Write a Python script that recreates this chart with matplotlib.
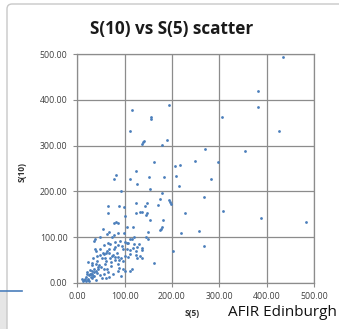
import matplotlib.pyplot as plt
from matplotlib.patches import FancyBboxPatch, Rectangle
from matplotlib.lines import Line2D

# S(5) and S(10) pairs, one point per record
s5 = [435, 382, 382, 306, 427, 270, 354, 248, 297, 283, 268, 308, 389, 484, 258, 268,
      218, 228, 202, 163, 194, 115, 156, 155, 112, 141, 139, 137, 189, 179, 162, 125,
      206, 217, 81, 77, 112, 126, 151, 184, 209, 215, 153, 93, 178, 174, 194, 196,
      198, 170, 147, 144, 123, 65, 88, 99, 64, 124, 132, 137, 146, 148, 153, 181,
      178, 177, 175, 100, 77, 81, 86, 104,
      54, 66, 63, 38, 36, 48, 73, 86, 101, 105, 108, 115, 119, 130, 127, 146,
      150, 150, 90, 87, 80, 56, 49, 37, 40, 66, 63, 68, 61, 79, 78, 94,
      97, 106, 112, 118, 123, 132, 137, 127, 112, 108, 101, 87, 92, 89, 75, 80,
      70, 80, 72, 56, 52, 58, 41, 34, 42, 23, 32, 39, 51, 56, 62, 65,
      57, 85, 89, 86, 96, 101, 112, 115, 43, 39, 42, 35, 26, 30, 21, 29,
      25, 18, 23, 28, 32, 36, 49, 52, 40, 15, 19, 25, 9, 13, 32, 35,
      68, 76, 61, 92, 137, 136, 123, 120, 111, 78, 70, 98, 117, 46, 58, 71,
      20, 27, 33, 44, 17, 22, 60, 84, 96, 31, 47, 55, 64, 74]
s10 = [493, 420, 385, 362, 332, 292, 289, 266, 265, 228, 188, 157, 141, 133, 113, 80,
       108, 153, 69, 43, 389, 379, 362, 359, 332, 310, 308, 303, 312, 301, 264, 244,
       255, 258, 236, 226, 226, 217, 231, 231, 234, 212, 206, 200, 196, 184, 181, 177,
       172, 170, 174, 168, 174, 169, 167, 166, 152, 153, 155, 155, 149, 152, 138, 137,
       121, 118, 116, 145, 131, 132, 131, 123,
       117, 112, 107, 95, 91, 101, 101, 109, 89, 88, 86, 96, 101, 85, 79, 101,
       96, 110, 91, 82, 90, 82, 74, 74, 69, 74, 69, 66, 64, 78, 73, 80,
       73, 74, 72, 75, 69, 58, 55, 54, 62, 57, 58, 57, 53, 49, 61, 57,
       53, 50, 45, 62, 55, 53, 59, 53, 48, 45, 44, 41, 35, 29, 31, 23,
       20, 42, 33, 26, 29, 26, 26, 29, 35, 26, 22, 31, 28, 25, 20, 20,
       16, 12, 9, 13, 11, 15, 16, 11, 7, 7, 4, 4, 9, 4, 20, 23,
       13, 19, 10, 14, 77, 72, 61, 85, 95, 104, 85, 109, 123, 38, 40, 36,
       24, 18, 15, 30, 8, 6, 47, 64, 48, 38, 60, 66, 88, 59]

x_ticks = [0, 100, 200, 300, 400, 500]
y_ticks = [0, 100, 200, 300, 400, 500]

W, H = 339, 329
fig = plt.figure(figsize=(W / 100, H / 100), dpi=100)
fig.patch.set_facecolor('white')

# chart frame with rounded corners, kept behind the axes
frame = FancyBboxPatch((7 / W, -0.2), (W + 20) / W, 1.2 - 4 / H,
                       boxstyle='round,pad=0,rounding_size=0.015',
                       transform=fig.transFigure, facecolor='white',
                       edgecolor='#c8c8c8', linewidth=1.0, zorder=-2)
fig.patches.append(frame)

# slide pieces around the chart
fig.patches.append(Rectangle((0, 0), 7 / W, 1 - 292 / H, transform=fig.transFigure,
                             facecolor='#e6e6e6', edgecolor='none', zorder=-3))
fig.lines.append(Line2D([0, 22 / W], [1 - 291 / H] * 2, transform=fig.transFigure,
                        color='#4a7ebb', linewidth=1.2))

ax = fig.add_axes([77.3 / W, 1 - 282.7 / H, (314 - 77.3) / W, (282.7 - 54.3) / H])
ax.set_zorder(2)
ax.scatter(s5, s10, s=4, color='#4a7ebb', linewidths=0, zorder=3)

ax.set_xlim(0, 500)
ax.set_ylim(0, 500)
ax.set_xticks(x_ticks)
ax.set_yticks(y_ticks)
ax.set_xticklabels([f'{v:.2f}' for v in x_ticks])
ax.set_yticklabels([f'{v:.2f}' for v in y_ticks])
ax.grid(True, color='#8c8c8c', linewidth=0.9)
ax.set_axisbelow(True)
for sp in ax.spines.values():
    sp.set_color('#8c8c8c')
    sp.set_linewidth(0.9)
ax.tick_params(direction='out', length=3, width=0.8, color='#8c8c8c',
               labelsize=6.3, labelcolor='#404040')
ax.tick_params(axis='y', pad=4)
ax.tick_params(axis='x', pad=4)
for lbl in ax.get_xticklabels() + ax.get_yticklabels():
    lbl.set_family('Open Sans')

fig.text(172 / W, 1 - 29 / H, 'S(10) vs S(5) scatter', ha='center', va='center',
         fontsize=12.3, fontweight='bold', family='Open Sans', color='#1a1a1a')
fig.text(192 / W, 1 - 313 / H, 'S(5)', ha='center', va='center',
         fontsize=6, fontweight='bold', family='Open Sans', color='#303030')
fig.text(22 / W, 1 - 172 / H, 'S(10)', ha='center', va='center', rotation=90,
         fontsize=6, fontweight='bold', family='Open Sans', color='#303030')
fig.text(337 / W, 1 - 312 / H, 'AFIR Edinburgh', ha='right', va='center',
         fontsize=11, family='Open Sans', color='#111111')

fig.savefig('out.png', dpi=100)
